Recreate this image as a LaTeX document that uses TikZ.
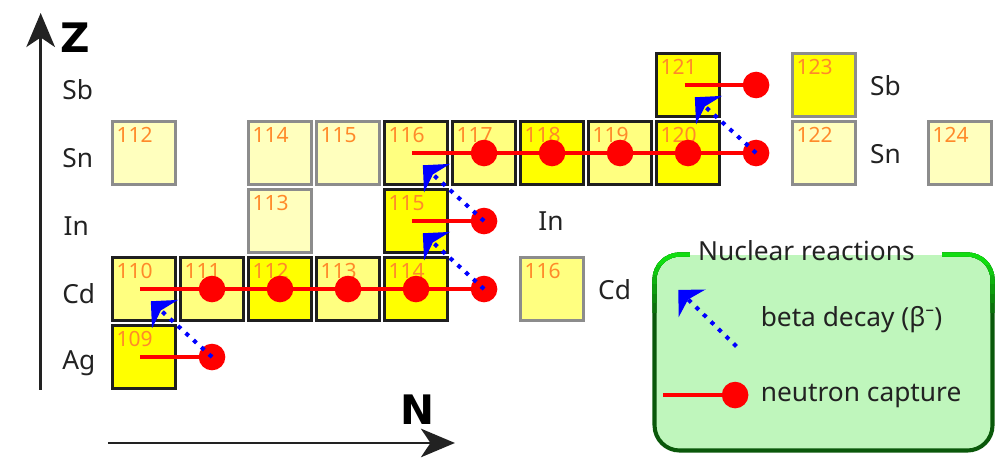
\documentclass[tikz,border=0pt]{standalone}
\usepackage{fontspec}
\setmainfont{Noto Sans}
\newfontfamily\axisfont{DejaVu Sans}
\usetikzlibrary{arrows.meta, positioning}

\definecolor{bright}{HTML}{FFFF00}
\definecolor{mid}{HTML}{FFFF80}
\definecolor{pale}{HTML}{FFFFBE}
\definecolor{numorange}{HTML}{FF8A2A}
\definecolor{legfill}{HTML}{BFF6BC}
\definecolor{leglite}{HTML}{11DD11}
\definecolor{legdark}{HTML}{0A580A}
\definecolor{ink}{HTML}{222222}

\tikzset{
  every node/.style={font=\fontsize{11}{13}\selectfont, text=ink},
  iso/.style={draw=black!88, line width=1.1pt, minimum size=0.932cm, inner sep=0pt, outer sep=0pt},
  other/.style={iso, draw=black!45},
  mass/.style={anchor=north west, inner xsep=1.6pt, inner ysep=2.4pt, text=numorange, font=\fontsize{8.8}{10}\selectfont},
  elem/.style={anchor=base west, inner sep=0pt},
  capture/.style={red, line width=1.7pt, -{Circle[length=0.39cm]}, shorten >=-0.195cm},
  beta/.style={blue, line width=1.7pt, dash pattern=on 1.7pt off 2.7pt, -{Stealth[length=0.28cm, width=0.56cm, inset=0.08cm]}},
  axis/.style={ink, line width=1.1pt, -{Stealth[length=0.5cm, width=0.42cm, inset=0.14cm]}},
  axislabel/.style={font=\axisfont\bfseries\fontsize{17}{20}\selectfont, text=black}
}

\begin{document}
\begin{tikzpicture}
  \useasboundingbox (0,0) rectangle (14.676,6.794);

  % chart of nuclides, one column per N, one row per Z
  \begin{scope}[shift={(2.118,1.544)}]
    \node[iso, fill=bright, label={[mass]north west:109}] (ag109) at (0,0) {};

    \node[iso, fill=mid, label={[mass]north west:110}] (cd110) at (0,1) {};
    \node[iso, fill=mid, label={[mass]north west:111}] (cd111) at (1,1) {};
    \node[iso, fill=bright, label={[mass]north west:112}] (cd112) at (2,1) {};
    \node[iso, fill=mid, label={[mass]north west:113}] (cd113) at (3,1) {};
    \node[iso, fill=bright, label={[mass]north west:114}] (cd114) at (4,1) {};
    \node[other, fill=mid, label={[mass]north west:116}] (cd116) at (6,1) {};

    \node[other, fill=pale, label={[mass]north west:113}] (in113) at (2,2) {};
    \node[iso, fill=bright, label={[mass]north west:115}] (in115) at (4,2) {};

    \node[other, fill=pale, label={[mass]north west:112}] (sn112) at (0,3) {};
    \node[other, fill=pale, label={[mass]north west:114}] (sn114) at (2,3) {};
    \node[other, fill=pale, label={[mass]north west:115}] (sn115) at (3,3) {};
    \node[iso, fill=mid, label={[mass]north west:116}] (sn116) at (4,3) {};
    \node[iso, fill=mid, label={[mass]north west:117}] (sn117) at (5,3) {};
    \node[iso, fill=bright, label={[mass]north west:118}] (sn118) at (6,3) {};
    \node[iso, fill=mid, label={[mass]north west:119}] (sn119) at (7,3) {};
    \node[iso, fill=bright, label={[mass]north west:120}] (sn120) at (8,3) {};
    \node[other, fill=pale, label={[mass]north west:122}] (sn122) at (10,3) {};
    \node[other, fill=pale, label={[mass]north west:124}] (sn124) at (12,3) {};

    \node[iso, fill=bright, label={[mass]north west:121}] (sb121) at (8,4) {};
    \node[other, fill=bright, label={[mass]north west:123}] (sb123) at (10,4) {};

    % short-lived nuclei, reached by capture only
    \coordinate (ag110) at (1,0);
    \coordinate (cd115) at (5,1);
    \coordinate (in116) at (5,2);
    \coordinate (sn121) at (9,3);
    \coordinate (sb122) at (9,4);
  \end{scope}

  % element names
  \node[elem] (lsb) at (0.91,5.334) {Sb};
  \node[elem] (lsn) at (0.91,4.334) {Sn};
  \node[elem] (lin) at (0.93,3.334) {In};
  \node[elem] (lcd) at (0.91,2.334) {Cd};
  \node[elem] (lag) at (0.91,1.354) {Ag};
  \node[elem] (rsb) at (12.79,5.39) {Sb};
  \node[elem] (rsn) at (12.79,4.39) {Sn};
  \node[elem] (rin) at (7.91,3.40) {In};
  \node[elem] (rcd) at (8.79,2.39) {Cd};

  % neutron captures
  \draw[capture] ([xshift=-0.06cm]ag109.center) -- (ag110);
  \draw[capture] ([xshift=-0.06cm]cd110.center) -- (cd111.center);
  \draw[capture] (cd111.center) -- (cd112.center);
  \draw[capture] (cd112.center) -- (cd113.center);
  \draw[capture] (cd113.center) -- (cd114.center);
  \draw[capture] (cd114.center) -- (cd115);
  \draw[capture] ([xshift=-0.06cm]in115.center) -- (in116);
  \draw[capture] ([xshift=-0.06cm]sn116.center) -- (sn117.center);
  \draw[capture] (sn117.center) -- (sn118.center);
  \draw[capture] (sn118.center) -- (sn119.center);
  \draw[capture] (sn119.center) -- (sn120.center);
  \draw[capture] (sn120.center) -- (sn121);
  \draw[capture] ([xshift=-0.05cm]sb121.center) -- (sb122);

  % beta decays
  \draw[beta] (ag110) -- ([shift={(0.1,-0.18)}]cd110.center);
  \draw[beta] (cd115) -- ([shift={(0.1,-0.18)}]in115.center);
  \draw[beta] (in116) -- ([shift={(0.1,-0.18)}]sn116.center);
  \draw[beta] (sn121) -- ([shift={(0.1,-0.18)}]sb121.center);

  % legend
  \node[fill=legfill, rounded corners=0.37cm, minimum width=4.956cm, minimum height=2.868cm, inner sep=0pt] (legend) at (12.11,1.61) {};
  \coordinate (gapl) at ([xshift=0.52cm]legend.north west);
  \coordinate (gapr) at ([xshift=-0.74cm]legend.north east);
  \draw[legdark, line width=1.7pt, rounded corners=0.37cm] (gapl) -- (legend.north west) -- (legend.south west) -- (legend.south east) -- (legend.north east) -- (gapr);
  \foreach \k in {6,...,1} {
    \pgfmathtruncatemacro\pc{100-16*(\k-1)}
    \begin{scope}
      \clip (9.4,3.3) rectangle (14.7,{3.044-0.14*\k});
      \draw[leglite!\pc!legdark, line width=1.7pt, rounded corners=0.37cm] (gapl) -- (legend.north west) -- (legend.south west) -- (legend.south east) -- (legend.north east) -- (gapr);
    \end{scope}
  }
  \node[anchor=base west, inner sep=0pt] (legtitle) at (10.26,2.97) {Nuclear reactions};

  \coordinate (betafrom) at (10.83,1.70);
  \coordinate (betato) at (9.975,2.53);
  \draw[beta] (betafrom) -- (betato);
  \node[anchor=base west, inner sep=0pt] (betatext) at (11.18,2.0) {beta decay (β⁻)};

  \coordinate (capfrom) at (9.755,0.985);
  \coordinate (capto) at (10.81,0.985);
  \draw[capture] (capfrom) -- (capto);
  \node[anchor=base west, inner sep=0pt] (captext) at (11.18,0.887) {neutron capture};

  % axes
  \coordinate (zfoot) at (0.598,1.06);
  \coordinate (zhead) at (0.598,6.603);
  \coordinate (nfoot) at (1.588,0.28);
  \coordinate (nhead) at (6.69,0.28);
  \draw[axis] (zfoot) -- (zhead);
  \draw[axis] (nfoot) -- (nhead);
  \node[axislabel] (zlabel) at (1.103,6.24) {Z};
  \node[axislabel] (nlabel) at (6.14,0.765) {N};
\end{tikzpicture}
\end{document}
